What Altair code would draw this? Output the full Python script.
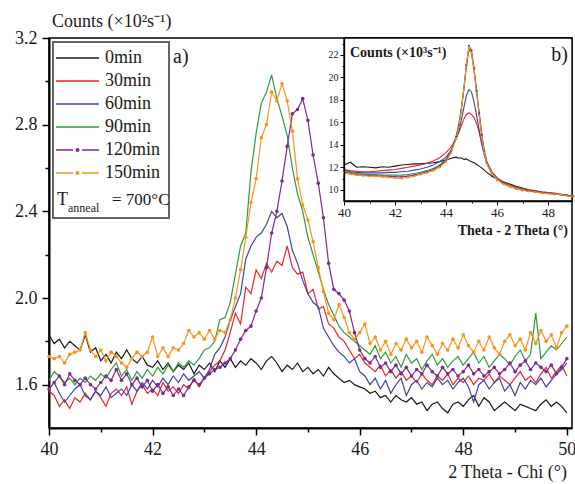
import altair as alt
import pandas as pd

FONT = "Liberation Serif"
names = ["0min", "30min", "60min", "90min", "120min", "150min"]
colors = ["#1a1a1a", "#e8262b", "#3d45a8", "#2f9a40", "#7f2a8e", "#f7941d"]
marked = ["120min", "150min"]

# ---------------- main panel a): 2 Theta - Chi scan, 40.0 .. 50.0 step 0.1
x_main = [round(40 + 0.1 * i, 1) for i in range(101)]

m_0 = [1.83,1.79,1.81,1.77,1.80,1.78,1.76,1.83,1.75,1.77,
       1.71,1.74,1.70,1.75,1.72,1.76,1.72,1.70,1.73,1.69,
       1.68,1.71,1.67,1.70,1.66,1.69,1.67,1.70,1.65,1.69,
       1.67,1.70,1.66,1.71,1.68,1.72,1.68,1.71,1.69,1.72,
       1.70,1.67,1.71,1.73,1.70,1.66,1.69,1.67,1.70,1.66,
       1.68,1.65,1.67,1.64,1.68,1.65,1.63,1.61,1.62,1.60,
       1.59,1.58,1.56,1.57,1.54,1.55,1.52,1.55,1.53,1.52,
       1.54,1.51,1.52,1.48,1.51,1.52,1.49,1.47,1.51,1.52,
       1.50,1.53,1.55,1.50,1.54,1.52,1.48,1.50,1.52,1.50,
       1.48,1.51,1.50,1.49,1.48,1.51,1.53,1.50,1.52,1.50,
       1.47]
m_30 = [1.57,1.55,1.50,1.53,1.49,1.54,1.52,1.56,1.53,1.57,
        1.54,1.50,1.56,1.58,1.55,1.59,1.51,1.57,1.60,1.56,
        1.58,1.55,1.61,1.57,1.59,1.56,1.60,1.58,1.63,1.59,
        1.63,1.66,1.69,1.71,1.76,1.84,1.93,1.88,2.05,2.02,
        2.13,2.09,2.16,2.12,2.17,2.15,2.24,2.14,2.11,2.12,
        2.02,2.04,1.95,1.96,1.88,1.86,1.82,1.80,1.76,1.72,
        1.74,1.70,1.68,1.66,1.69,1.64,1.67,1.63,1.66,1.62,
        1.64,1.61,1.65,1.62,1.60,1.64,1.62,1.65,1.60,1.63,
        1.61,1.64,1.60,1.63,1.62,1.65,1.61,1.64,1.62,1.60,
        1.63,1.66,1.62,1.64,1.61,1.65,1.68,1.63,1.66,1.69,
        1.64]
m_60 = [1.58,1.61,1.56,1.52,1.55,1.58,1.60,1.55,1.53,1.57,
        1.55,1.59,1.54,1.56,1.58,1.55,1.60,1.57,1.61,1.58,
        1.62,1.59,1.63,1.60,1.64,1.61,1.65,1.62,1.64,1.66,
        1.63,1.67,1.74,1.77,1.82,1.90,1.96,2.02,2.18,2.24,
        2.28,2.30,2.34,2.40,2.37,2.39,2.33,2.22,2.16,2.08,
        2.02,1.98,1.96,1.86,1.82,1.78,1.75,1.73,1.70,1.72,
        1.66,1.64,1.60,1.63,1.58,1.62,1.56,1.60,1.63,1.55,
        1.60,1.62,1.58,1.61,1.59,1.63,1.60,1.62,1.58,1.61,
        1.63,1.59,1.52,1.60,1.62,1.58,1.61,1.63,1.57,1.60,
        1.55,1.61,1.58,1.62,1.60,1.63,1.59,1.62,1.65,1.67,
        1.70]
m_90 = [1.62,1.66,1.64,1.61,1.63,1.60,1.63,1.61,1.64,1.62,
        1.65,1.63,1.67,1.70,1.64,1.67,1.62,1.66,1.63,1.67,
        1.64,1.68,1.65,1.69,1.66,1.70,1.68,1.71,1.69,1.72,
        1.76,1.77,1.80,1.90,1.91,1.98,2.11,2.24,2.30,2.58,
        2.76,2.90,2.95,3.03,2.92,2.84,2.75,2.60,2.48,2.40,
        2.28,2.20,2.12,2.04,1.97,1.92,1.87,1.84,1.82,1.80,
        1.78,1.76,1.74,1.78,1.72,1.75,1.70,1.73,1.68,1.74,
        1.70,1.72,1.67,1.71,1.74,1.69,1.72,1.68,1.71,1.73,
        1.69,1.72,1.75,1.70,1.73,1.68,1.71,1.74,1.72,1.69,
        1.73,1.76,1.71,1.74,1.93,1.72,1.75,1.78,1.76,1.79,
        1.82]
m_120 = [1.58,1.61,1.64,1.60,1.65,1.62,1.60,1.63,1.60,1.58,
         1.61,1.64,1.62,1.67,1.62,1.65,1.60,1.63,1.59,1.62,
         1.57,1.60,1.56,1.59,1.55,1.58,1.55,1.59,1.62,1.60,
         1.63,1.65,1.67,1.68,1.70,1.72,1.76,1.81,1.85,1.87,
         1.94,2.00,2.14,2.30,2.40,2.54,2.70,2.85,2.87,2.92,
         2.82,2.66,2.53,2.37,2.16,2.04,2.02,1.99,1.94,1.84,
         1.76,1.72,1.70,1.73,1.68,1.70,1.66,1.69,1.65,1.68,
         1.64,1.67,1.65,1.69,1.66,1.64,1.68,1.65,1.67,1.64,
         1.66,1.69,1.65,1.67,1.64,1.66,1.68,1.65,1.67,1.70,
         1.66,1.69,1.71,1.67,1.70,1.68,1.66,1.69,1.65,1.68,
         1.72]
m_150 = [1.73,1.72,1.73,1.70,1.74,1.75,1.76,1.84,1.76,1.73,
         1.76,1.71,1.75,1.73,1.70,1.68,1.72,1.75,1.73,1.75,
         1.82,1.73,1.77,1.73,1.77,1.76,1.79,1.85,1.82,1.84,
         1.81,1.85,1.81,1.85,1.84,1.90,2.00,2.13,2.28,2.44,
         2.55,2.74,2.80,2.95,2.91,2.99,2.91,2.77,2.55,2.43,
         2.36,2.26,2.14,2.03,1.93,1.90,1.97,1.91,1.84,1.81,
         1.84,1.88,1.79,1.82,1.76,1.80,1.74,1.79,1.76,1.81,
         1.77,1.80,1.75,1.82,1.78,1.74,1.79,1.76,1.81,1.77,
         1.83,1.78,1.75,1.80,1.76,1.82,1.77,1.74,1.80,1.83,
         1.78,1.81,1.76,1.84,1.79,1.85,1.80,1.83,1.77,1.84,
         1.87]

# ---------------- inset b): Theta - 2 Theta scan (x10^3 counts/s)
x_inset = [40.0,40.25,40.5,40.75,41.0,41.25,41.5,41.75,42.0,42.25,42.5,42.75,43.0,43.25,43.5,43.75,
           44.0,44.2,44.4,
           44.5,44.6,44.7,44.8,44.9,45.0,45.1,45.2,45.3,45.4,45.5,45.6,
           45.8,46.0,
           46.25,46.5,46.75,47.0,47.25,47.5,47.75,48.0,48.25,48.5,48.75,49.0]
i_0 = [12.2,12.45,12.0,12.05,12.0,11.95,12.05,12.0,12.1,12.2,12.25,12.3,12.3,12.35,12.4,12.5,
       12.65,12.8,12.9,
       12.8,12.85,12.7,12.75,12.6,12.5,12.4,12.25,12.1,11.95,11.75,11.55,
       11.2,10.95,
       10.7,10.5,10.3,10.15,10.0,9.9,9.8,9.75,9.65,9.55,9.5,9.4]
i_30 = [11.8,11.7,11.65,11.6,11.6,11.65,11.7,11.75,11.8,11.9,12.0,12.1,12.2,12.35,12.55,12.85,
        13.3,13.8,14.6,
        15.1,15.7,16.3,16.7,16.85,16.7,16.4,15.9,15.1,14.1,13.2,12.5,
        11.6,11.1,
        10.7,10.45,10.25,10.1,9.95,9.9,9.8,9.75,9.7,9.6,9.5,9.45]
i_60 = [11.75,11.6,11.55,11.5,11.5,11.5,11.5,11.55,11.55,11.6,11.65,11.75,11.85,12.0,12.2,12.5,
        12.9,13.5,14.5,
        15.2,16.2,17.3,18.4,18.9,18.7,17.8,16.6,15.3,14.1,13.1,12.3,
        11.4,10.95,
        10.6,10.35,10.15,10.0,9.9,9.85,9.75,9.7,9.65,9.55,9.5,9.45]
i_90 = [11.7,11.55,11.45,11.4,11.35,11.35,11.3,11.3,11.3,11.3,11.35,11.45,11.55,11.7,11.9,12.2,
        12.7,13.5,14.8,
        15.8,17.2,19.0,21.0,22.5,22.1,20.6,18.7,16.8,14.9,13.5,12.5,
        11.5,11.0,
        10.6,10.35,10.15,10.0,9.9,9.85,9.75,9.7,9.65,9.6,9.5,9.45]
i_120 = [11.6,11.45,11.35,11.3,11.25,11.25,11.2,11.2,11.15,11.15,11.2,11.3,11.45,11.6,11.8,12.1,
         12.6,13.4,14.7,
         15.7,17.1,19.0,21.1,22.8,22.4,20.8,18.8,16.8,14.9,13.4,12.4,
         11.4,10.9,
         10.55,10.3,10.1,9.95,9.9,9.8,9.75,9.7,9.6,9.55,9.5,9.4]
i_150 = [11.5,11.4,11.3,11.25,11.2,11.2,11.15,11.1,11.05,11.0,11.1,11.2,11.35,11.5,11.7,12.0,
         12.5,13.3,14.6,
         15.6,17.1,19.0,21.2,22.7,22.2,20.6,18.6,16.6,14.7,13.3,12.3,
         11.4,10.9,
         10.5,10.3,10.1,9.95,9.85,9.8,9.7,9.65,9.6,9.55,9.45,9.4]

main_series = [m_0, m_30, m_60, m_90, m_120, m_150]
inset_series = [i_0, i_30, i_60, i_90, i_120, i_150]

main_df = pd.DataFrame([{"x": x, "y": v, "s": n}
                        for n, vals in zip(names, main_series) for x, v in zip(x_main, vals)])
inset_df = pd.DataFrame([{"x": x, "y": v, "s": n}
                         for n, vals in zip(names, inset_series) for x, v in zip(x_inset, vals)])
one = pd.DataFrame({"a": [0]})

W, H = 523, 390
cscale = alt.Scale(domain=names, range=colors)
color_enc = alt.Color("s:N", scale=cscale, legend=None)
marked_filter = alt.FieldOneOfPredicate(field="s", oneOf=marked)

# ---------------- main axes
mx = alt.X("x:Q", scale=alt.Scale(domain=[40, 50.1], nice=False, zero=False),
           axis=alt.Axis(values=list(range(40, 51)),
                         labelExpr="datum.value % 2 == 0 ? datum.label : ''",
                         tickSize={"condition": {"test": "datum.value % 2 != 0", "value": 4}, "value": 7},
                         tickWidth=1.5, tickColor="black", domainColor="black", domainWidth=2,
                         labelFont=FONT, labelFontSize=18, labelColor="#1a1a1a", labelPadding=5,
                         labelFlush=False, labelOverlap=False, grid=False, title=None))
my = alt.Y("y:Q", scale=alt.Scale(domain=[1.4, 3.2], nice=False, zero=False),
           axis=alt.Axis(values=[1.6, 1.8, 2.0, 2.2, 2.4, 2.6, 2.8, 3.0, 3.2],
                         labelExpr="round(datum.value * 10) % 4 == 0 ? format(datum.value, '.1f') : ''",
                         tickSize={"condition": {"test": "round(datum.value * 10) % 4 != 0", "value": 4}, "value": 7},
                         tickWidth=1.5, tickColor="black", domainColor="black", domainWidth=2,
                         labelFont=FONT, labelFontSize=18, labelColor="#1a1a1a", labelPadding=5,
                         labelFlush=False, labelOverlap=False, grid=False, title=None))

main_lines = alt.Chart(main_df).mark_line(strokeWidth=1.2).encode(x=mx, y=my, color=color_enc)
main_pts = alt.Chart(main_df).transform_filter(marked_filter).mark_circle(size=13, opacity=1).encode(
    x=mx, y=my, color=color_enc)


def txt(s, x, y, size=18, align="left", baseline="alphabetic", weight="normal"):
    return alt.Chart(one).mark_text(text=s, font=FONT, fontSize=size, align=align, baseline=baseline,
                                    fontWeight=weight, color="#1a1a1a").encode(
        x=alt.value(x), y=alt.value(y))


annots = [
    txt("Counts (×10²s⁻¹)", 3, -11, 18),
    txt("a)", 124, 25, 20),
    txt("2 Theta - Chi (°)", 518, 440, 18, align="right"),
]

# ---------------- legend (inside panel a)
leg = [alt.Chart(one).mark_rect(fill="white", stroke="#666666", strokeWidth=2).encode(
    x=alt.value(4), x2=alt.value(120), y=alt.value(4), y2=alt.value(180))]
row_y = [20, 43, 66, 89, 112, 135]
for n, c, ry in zip(names, colors, row_y):
    dash = [17, 9] if n in marked else [1, 0]
    leg.append(alt.Chart(one).mark_rule(color=c, strokeWidth=1.3, strokeDash=dash).encode(
        x=alt.value(7), x2=alt.value(50), y=alt.value(ry)))
    if n in marked:
        leg.append(alt.Chart(one).mark_circle(color=c, size=16, opacity=1).encode(
            x=alt.value(28.5), y=alt.value(ry)))
    leg.append(txt(n, 56, ry, 18, baseline="middle"))
leg += [
    txt("T", 8, 162, 18, baseline="middle"),
    txt("anneal", 19, 170, 12, baseline="middle"),
    txt("= 700°C", 63, 162, 17, baseline="middle"),
]

main_group = alt.layer(main_lines, main_pts, *leg, *annots)

# ---------------- inset b)
IX0, IX1, IY1 = 295, 523, 163
ix = alt.X("x:Q", scale=alt.Scale(domain=[40, 48.94], range=[IX0, IX1], nice=False, zero=False),
           axis=alt.Axis(orient="bottom", offset=-(H - IY1), values=list(range(40, 49)),
                         labelExpr="datum.value % 2 == 0 ? datum.label : ''",
                         tickSize={"condition": {"test": "datum.value % 2 != 0", "value": 2}, "value": 4},
                         tickWidth=1, tickColor="black", domainColor="black", domainWidth=1.3,
                         labelFont=FONT, labelFontSize=13, labelColor="#1a1a1a", labelPadding=1,
                         labelFlush=False, labelOverlap=False, grid=False, title=None, zindex=1))
iy = alt.Y("y:Q", scale=alt.Scale(domain=[9, 23.5], range=[IY1, 0], nice=False, zero=False),
           axis=alt.Axis(orient="left", offset=-IX0, values=list(range(10, 24)),
                         labelExpr="datum.value % 2 == 0 ? datum.label : ''",
                         tickSize={"condition": {"test": "datum.value % 2 != 0", "value": 2}, "value": 4},
                         tickWidth=1, tickColor="black", domainColor="black", domainWidth=1.3,
                         labelFont=FONT, labelFontSize=10, labelColor="#1a1a1a", labelPadding=2,
                         labelFlush=False, labelOverlap=False, grid=False, title=None, zindex=1))

inset_box = alt.Chart(one).mark_rect(fill="white", stroke="black", strokeWidth=1.3).encode(
    x=alt.value(IX0), x2=alt.value(IX1), y=alt.value(0), y2=alt.value(IY1))
inset_lines = alt.Chart(inset_df).mark_line(strokeWidth=1.1).encode(x=ix, y=iy, color=color_enc)
inset_pts = alt.Chart(inset_df).transform_filter(marked_filter).mark_circle(size=5, opacity=1).encode(
    x=ix, y=iy, color=color_enc)
inset_text = [
    txt("Counts (×10³s⁻¹)", IX0 + 6, 19, 14, weight="bold"),
    txt("b)", 519, 23, 20, align="right"),
    txt("Theta - 2 Theta (°)", 519, 197, 14, align="right", weight="bold"),
]
inset_group = alt.layer(inset_box, inset_lines, inset_pts, *inset_text)

chart = alt.layer(main_group, inset_group).resolve_scale(
    x="independent", y="independent"
).properties(
    width=W, height=H,
    autosize=alt.AutoSizeParams(type="none"),
    padding={"left": 49, "top": 38, "right": 3, "bottom": 56},
    background="white",
).configure_view(stroke="black", strokeWidth=1.5)

chart.save("out.html", embed_options={"renderer": "svg", "actions": False})
